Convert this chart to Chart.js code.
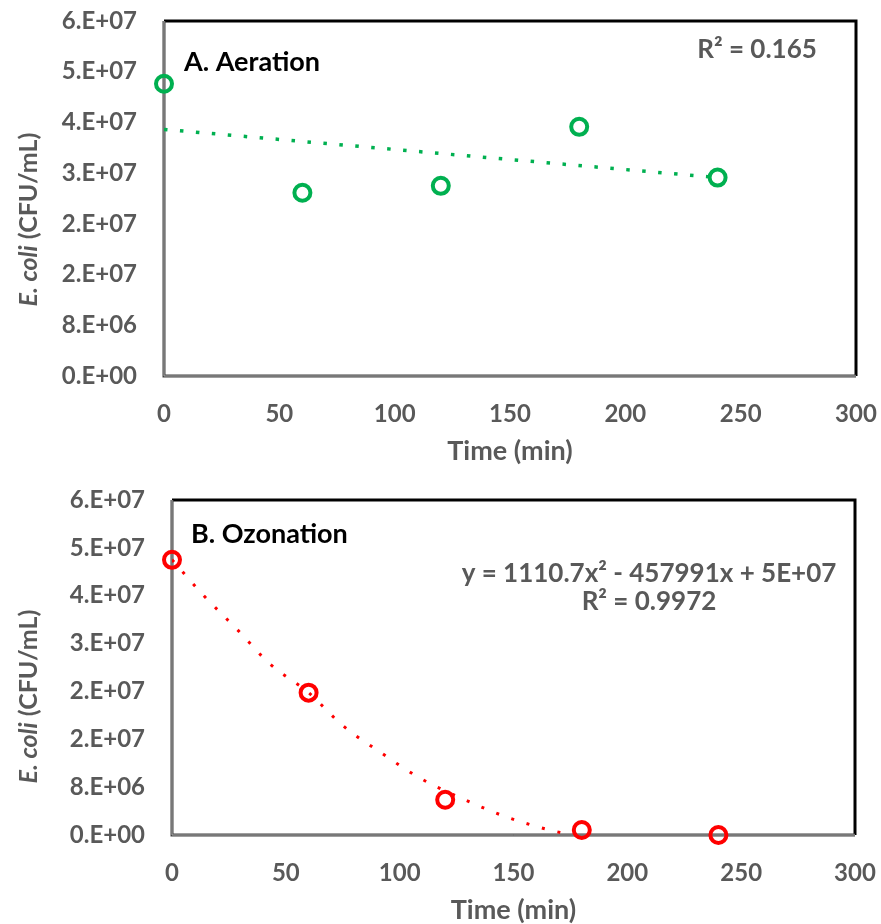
<!DOCTYPE html>
<html>
<head>
<meta charset="utf-8">
<script src="https://cdn.jsdelivr.net/npm/chart.js@4.4.0/dist/chart.umd.min.js"></script>
<style>
html, body { margin: 0; padding: 0; background: #fff; }
#wrapA { position: absolute; left: 0; top: 0; width: 881px; height: 470px; }
#wrapB { position: absolute; left: 0; top: 465px; width: 881px; height: 459px; }
</style>
</head>
<body>
<div id="wrapA"><canvas id="chartA"></canvas></div>
<div id="wrapB"><canvas id="chartB"></canvas></div>
<script>
// sampling times (min)
var timeMin = [0, 60, 120, 180, 240];
// E. coli (CFU/mL)
var aerationCfu = [4.61e7, 2.89e7, 3.0e7, 3.93e7, 3.13e7];
var ozonationCfu = [4.6e7, 2.38e7, 5.9e6, 8.4e5, 0];

// trendlines
var aerTrendX = [0, 240];
var aerTrendY = [3.89e7, 3.13e7];
var ozTrendX = [0, 14, 29, 43, 60, 75, 92, 109, 128, 147, 167, 174];
var ozTrendY = [4.6e7, 4.0e7, 3.42e7, 2.86e7, 2.38e7, 1.83e7, 1.37e7, 9.5e6, 6.0e6, 3.0e6, 7.2e5, 1.5e5];

// axis ticks
var xTicks = [0, 50, 100, 150, 200, 250, 300];
var yTicks = [0, 8e6, 1.6e7, 2.4e7, 3.2e7, 4.0e7, 4.8e7, 5.6e7];
var yTickLabels = ['0.E+00', '8.E+06', '2.E+07', '2.E+07', '3.E+07', '4.E+07', '5.E+07', '6.E+07'];

var FONT = 'Lato';
var GREY = '#595959';

function pairs(xs, ys) {
  return xs.map(function (x, i) { return { x: x, y: ys[i] }; });
}

var decorPlugin = {
  id: 'decor',
  beforeDatasetsDraw: function (chart) {
    var a = chart.chartArea, ctx = chart.ctx;
    ctx.save();
    // top + right border
    ctx.strokeStyle = '#000';
    ctx.lineWidth = 3;
    ctx.beginPath();
    ctx.moveTo(a.left, a.top);
    ctx.lineTo(a.right, a.top);
    ctx.lineTo(a.right, a.bottom);
    ctx.stroke();
    // left + bottom axis lines (double look)
    ctx.strokeStyle = '#404040';
    ctx.lineWidth = 3;
    ctx.beginPath();
    ctx.moveTo(a.left, a.top);
    ctx.lineTo(a.left, a.bottom);
    ctx.lineTo(a.right, a.bottom);
    ctx.stroke();
    ctx.strokeStyle = '#b0b0b0';
    ctx.lineWidth = 1;
    ctx.beginPath();
    ctx.moveTo(a.left, a.top);
    ctx.lineTo(a.left, a.bottom);
    ctx.lineTo(a.right, a.bottom);
    ctx.stroke();
    ctx.restore();
  },
  afterDraw: function (chart, args, o) {
    var a = chart.chartArea, ctx = chart.ctx;
    ctx.save();
    ctx.textBaseline = 'middle';
    // x axis title
    ctx.fillStyle = GREY;
    ctx.font = 'bold 27px ' + FONT;
    ctx.textAlign = 'center';
    ctx.fillText('Time (min)', (a.left + a.right) / 2, a.bottom + 75);
    // y axis title, "E. coli" in italics
    ctx.translate(29, (a.top + a.bottom) / 2 + o.yTitleShift);
    ctx.rotate(-Math.PI / 2);
    var f1 = 'italic bold 25px ' + FONT, f2 = 'bold 25px ' + FONT;
    ctx.font = f1; var w1 = ctx.measureText('E. coli').width;
    ctx.font = f2; var w2 = ctx.measureText(' (CFU/mL)').width;
    ctx.textAlign = 'left';
    ctx.font = f1; ctx.fillText('E. coli', -(w1 + w2) / 2, 0);
    ctx.font = f2; ctx.fillText(' (CFU/mL)', -(w1 + w2) / 2 + w1, 0);
    ctx.restore();

    ctx.save();
    ctx.textBaseline = 'middle';
    // panel label
    ctx.fillStyle = '#000';
    ctx.font = 'bold 27px ' + FONT;
    ctx.textAlign = 'left';
    ctx.fillText(o.panel, a.left + o.panelDx, a.top + o.panelDy);
    // fit text
    ctx.fillStyle = GREY;
    ctx.font = 'bold 26px ' + FONT;
    ctx.textAlign = 'center';
    o.fit.forEach(function (line, i) {
      ctx.fillText(line, a.right - o.fitDx, a.top + o.fitDy + i * 28);
    });
    ctx.restore();
  }
};

function makeChart(id, pts, trend, color, dash, pad, yW, xH, decor) {
  return new Chart(document.getElementById(id), {
    type: 'scatter',
    data: {
      datasets: [{
        data: pts,
        order: 0,
        showLine: false,
        pointStyle: 'circle',
        pointRadius: 8,
        pointHoverRadius: 8,
        borderWidth: 4,
        borderColor: color,
        backgroundColor: 'rgba(0,0,0,0)',
        clip: false
      }, {
        data: trend,
        order: 1,
        showLine: true,
        pointRadius: 0,
        borderColor: color,
        borderWidth: dash[0],
        borderDash: dash,
        cubicInterpolationMode: 'monotone',
        fill: false
      }]
    },
    options: {
      responsive: true,
      maintainAspectRatio: false,
      animation: false,
      layout: { padding: pad },
      plugins: {
        legend: { display: false },
        tooltip: { enabled: false },
        decor: decor
      },
      scales: {
        x: {
          type: 'linear',
          min: 0, max: 300,
          afterBuildTicks: function (s) { s.ticks = xTicks.map(function (v) { return { value: v }; }); },
          afterFit: function (s) { s.height = xH; s.paddingLeft = 0; s.paddingRight = 0; },
          grid: { display: false, drawTicks: false },
          border: { display: false },
          ticks: { color: GREY, font: { family: FONT, size: 24, weight: 'bold' }, padding: 24, maxRotation: 0 }
        },
        y: {
          type: 'linear',
          min: 0, max: 5.6e7,
          afterBuildTicks: function (s) { s.ticks = yTicks.map(function (v) { return { value: v }; }); },
          afterFit: function (s) { s.width = yW; s.paddingTop = 0; s.paddingBottom = 0; },
          grid: { display: false, drawTicks: false },
          border: { display: false },
          ticks: {
            color: GREY, font: { family: FONT, size: 24, weight: 'bold' }, padding: 27,
            callback: function (v, i) { return yTickLabels[i]; }
          }
        }
      }
    },
    plugins: [decorPlugin]
  });
}

makeChart('chartA', pairs(timeMin, aerationCfu), pairs(aerTrendX, aerTrendY), '#00B050', [3.5, 12.5],
  { top: 21, right: 25, left: 0, bottom: 0 }, 164, 94,
  { panel: 'A. Aeration', panelDx: 20, panelDy: 41, fit: ['R\u00B2 = 0.165'], fitDx: 99, fitDy: 29, yTitleShift: 21 });

makeChart('chartB', pairs(timeMin, ozonationCfu), pairs(ozTrendX, ozTrendY), '#FF0000', [3, 13],
  { top: 35, right: 26, left: 0, bottom: 0 }, 172, 89,
  { panel: 'B. Ozonation', panelDx: 19, panelDy: 34, fit: ['y = 1110.7x\u00B2 - 457991x + 5E+07', 'R\u00B2 = 0.9972'], fitDx: 206, fitDy: 74, yTitleShift: 29 });
</script>
</body>
</html>
